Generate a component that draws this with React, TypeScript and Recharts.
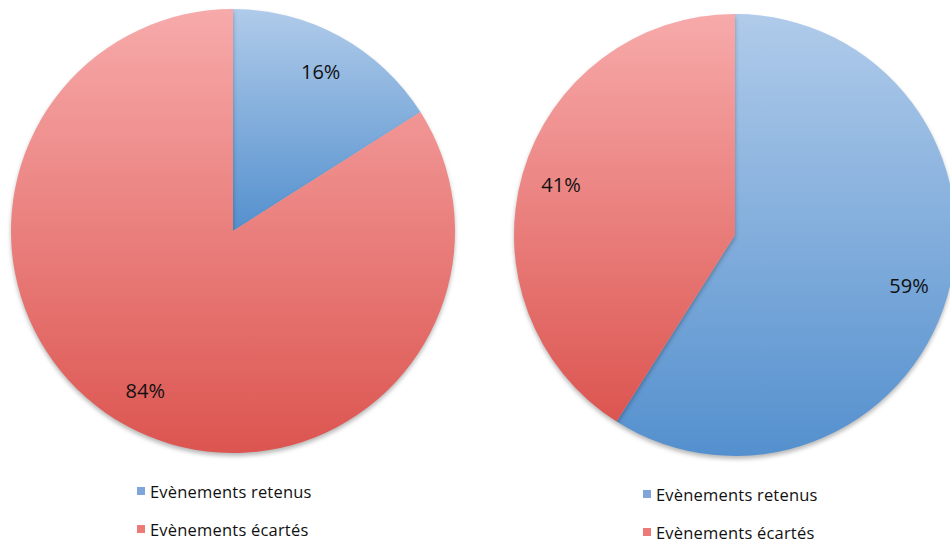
import React from 'react';
import { PieChart, Pie, Cell } from 'recharts';

const categories = ['Evènements retenus', 'Evènements écartés'];
const leftValues = [16, 84];
const rightValues = [59, 41];
const sliceFills = ['url(#gradBlue)', 'url(#gradRed)'];
const legendSwatches = ['#7ea6da', '#ec7b78'];

const RAD = Math.PI / 180;
const FONT = '"Open Sans", "DejaVu Sans", sans-serif';

type LabelProps = {
    cx: number;
    cy: number;
    midAngle: number;
    outerRadius: number;
    value: number;
};

const renderLabel = (props: LabelProps) => {
    const { cx, cy, midAngle, outerRadius, value } = props;
    const r = outerRadius * 0.82;
    const x = cx + r * Math.cos(-midAngle * RAD);
    const y = cy + r * Math.sin(-midAngle * RAD);
    return (
        <text x={x} y={y} fill="#111" textAnchor="middle" dominantBaseline="central" fontSize={20} fontFamily={FONT}>
            {`${value}%`}
        </text>
    );
};

const Legend: React.FC<{ left: number; top: number; gap: number }> = ({ left, top, gap }) => (
    <div style={{ position: 'absolute', left, top, fontFamily: FONT, fontSize: 16.5, letterSpacing: 0.2, color: '#111' }}>
        {categories.map((name, i) => (
            <div key={name} style={{ position: 'absolute', top: i * gap, left: 0, whiteSpace: 'nowrap', display: 'flex', alignItems: 'center', height: 20 }}>
                <span style={{ display: 'inline-block', width: 8, height: 8, background: legendSwatches[i], marginRight: 5 }} />
                <span>{name}</span>
            </div>
        ))}
    </div>
);

export default function App() {
    const leftData = categories.map((name, i) => ({ name, value: leftValues[i] }));
    const rightData = categories.map((name, i) => ({ name, value: rightValues[i] }));

    return (
        <div style={{ position: 'absolute', left: 0, top: 0, width: 950, height: 542, background: '#fff', overflow: 'hidden' }}>
            <style>{`.recharts-pie-sector { filter: drop-shadow(0px 3px 2px rgba(0,0,0,0.28)); }`}</style>
            <PieChart width={950} height={542} margin={{ top: 0, right: 0, bottom: 0, left: 0 }}>
                <defs>
                    <linearGradient id="gradBlue" x1="0" y1="0" x2="0" y2="1">
                        <stop offset="0%" stopColor="#b0cbea" />
                        <stop offset="100%" stopColor="#5490ce" />
                    </linearGradient>
                    <linearGradient id="gradRed" x1="0" y1="0" x2="0" y2="1">
                        <stop offset="0%" stopColor="#f7aaaa" />
                        <stop offset="100%" stopColor="#dc5550" />
                    </linearGradient>
                </defs>
                <Pie
                    data={leftData}
                    dataKey="value"
                    nameKey="name"
                    cx={233}
                    cy={231}
                    outerRadius={222}
                    startAngle={90}
                    endAngle={-270}
                    stroke="none"
                    labelLine={false}
                    label={renderLabel}
                    isAnimationActive={false}
                >
                    {leftData.map((entry, index) => (
                        <Cell key={`l-${index}`} fill={sliceFills[index]} />
                    ))}
                </Pie>
                <Pie
                    data={rightData}
                    dataKey="value"
                    nameKey="name"
                    cx={735}
                    cy={235}
                    outerRadius={221}
                    startAngle={90}
                    endAngle={-270}
                    stroke="none"
                    labelLine={false}
                    label={renderLabel}
                    isAnimationActive={false}
                >
                    {rightData.map((entry, index) => (
                        <Cell key={`r-${index}`} fill={sliceFills[index]} />
                    ))}
                </Pie>
            </PieChart>
            <Legend left={137} top={481} gap={38} />
            <Legend left={643} top={484} gap={38} />
        </div>
    );
}
